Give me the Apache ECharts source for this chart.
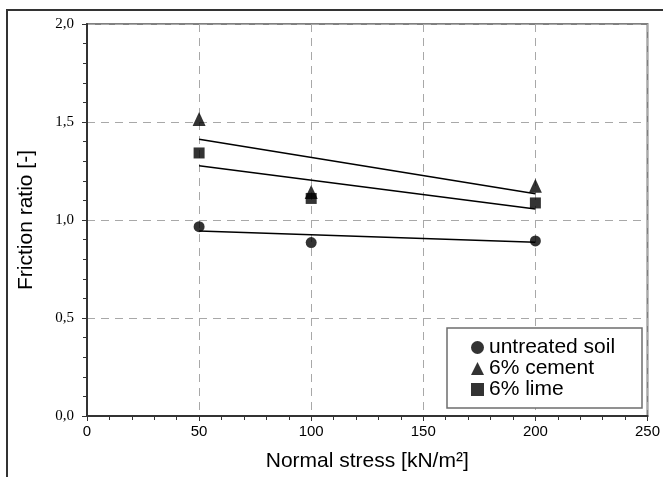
<!DOCTYPE html>
<html>
<head>
<meta charset="utf-8">
<script src="https://cdn.jsdelivr.net/npm/echarts@6/dist/echarts.min.js"></script>
<style>html,body{margin:0;padding:0;background:#fff}#c{width:663px;height:477px}</style>
</head>
<body>
<div id="c"></div>
<script>
// Data
var stress = [50, 100, 200];
var untreated = [0.966, 0.885, 0.893];
var cement = [1.515, 1.143, 1.175];
var lime = [1.342, 1.110, 1.087];
var trendX = [50, 200];
var trendUntreated = [0.944, 0.886];
var trendCement = [1.412, 1.134];
var trendLime = [1.277, 1.056];
var seriesNames = ['untreated soil', '6% cement', '6% lime'];

function pairs(xs, ys) { return xs.map(function (x, i) { return [x, ys[i]]; }); }

var chart = echarts.init(document.getElementById('c'), null, { renderer: 'canvas' });
var sans = 'Liberation Sans, Arial, sans-serif';
var serif = 'Liberation Serif, Times New Roman, serif';

var option = {
  animation: false,
  backgroundColor: '#fff',
  graphic: [
    { type: 'rect', shape: { x: 7, y: 10, width: 720, height: 520 }, style: { fill: 'none', stroke: '#333', lineWidth: 2 }, z: 0 },
    { type: 'rect', shape: { x: 447, y: 328, width: 195, height: 80 }, style: { fill: '#fff', stroke: '#6e6e6e', lineWidth: 1.5 }, z: 50 }
  ],
  grid: { left: 87, right: 11, top: 24, bottom: 61, show: true, borderColor: '#808080', borderWidth: 2, backgroundColor: 'transparent' },
  xAxis: {
    type: 'value', min: 0, max: 250, interval: 50,
    name: 'Normal stress [kN/m²]', nameLocation: 'middle', nameGap: 35,
    nameTextStyle: { fontFamily: sans, fontSize: 21, color: '#000' },
    axisLine: { show: true, onZero: false, lineStyle: { color: '#333', width: 2 } },
    axisTick: { show: true, inside: false, length: 5, lineStyle: { color: '#333', width: 1 } },
    minorTick: { show: true, splitNumber: 5, length: 4, lineStyle: { color: '#333', width: 1 } },
    axisLabel: { fontFamily: sans, fontSize: 15, color: '#000', margin: 8 },
    splitLine: { show: true, lineStyle: { color: '#a8a8a8', width: 1, type: [8, 6] } }
  },
  yAxis: {
    type: 'value', min: 0, max: 2, interval: 0.5,
    name: 'Friction ratio [-]', nameLocation: 'middle', nameGap: 50,
    nameTextStyle: { fontFamily: sans, fontSize: 21, color: '#000' },
    axisLine: { show: true, onZero: false, lineStyle: { color: '#333', width: 2 } },
    axisTick: { show: true, inside: false, length: 5, lineStyle: { color: '#333', width: 1 } },
    minorTick: { show: true, splitNumber: 5, length: 4, lineStyle: { color: '#333', width: 1 } },
    axisLabel: { fontFamily: serif, fontSize: 15, color: '#000', margin: 13,
      formatter: function (v) { return v.toFixed(1).replace('.', ','); } },
    splitLine: { show: true, lineStyle: { color: '#a8a8a8', width: 1, type: [8, 6] } }
  },
  legend: {
    data: [
      { name: seriesNames[0], icon: 'circle' },
      { name: seriesNames[1], icon: 'triangle' },
      { name: seriesNames[2], icon: 'rect' }
    ],
    orient: 'vertical', left: 466, top: 332,
    itemWidth: 13, itemHeight: 13, itemGap: 0, itemTextGap: 8,
    textStyle: { fontFamily: sans, fontSize: 21, color: '#000', lineHeight: 21 },
    z: 60
  },
  series: [
    { name: seriesNames[0], type: 'scatter', data: pairs(stress, untreated), symbol: 'circle', symbolSize: 11, itemStyle: { color: '#000' }, z: 5 },
    { name: seriesNames[1], type: 'scatter', data: pairs(stress, cement), symbol: 'triangle', symbolSize: [13, 14], itemStyle: { color: '#000' }, z: 5 },
    { name: seriesNames[2], type: 'scatter', data: pairs(stress, lime), symbol: 'rect', symbolSize: 11, itemStyle: { color: '#000' }, z: 5 },
    { name: 't0', type: 'line', data: pairs(trendX, trendUntreated), showSymbol: false, symbol: 'none', lineStyle: { color: '#000', width: 1.5 }, z: 4 },
    { name: 't1', type: 'line', data: pairs(trendX, trendCement), showSymbol: false, symbol: 'none', lineStyle: { color: '#000', width: 1.5 }, z: 4 },
    { name: 't2', type: 'line', data: pairs(trendX, trendLime), showSymbol: false, symbol: 'none', lineStyle: { color: '#000', width: 1.5 }, z: 4 }
  ]
};
chart.setOption(option);
</script>
</body>
</html>
